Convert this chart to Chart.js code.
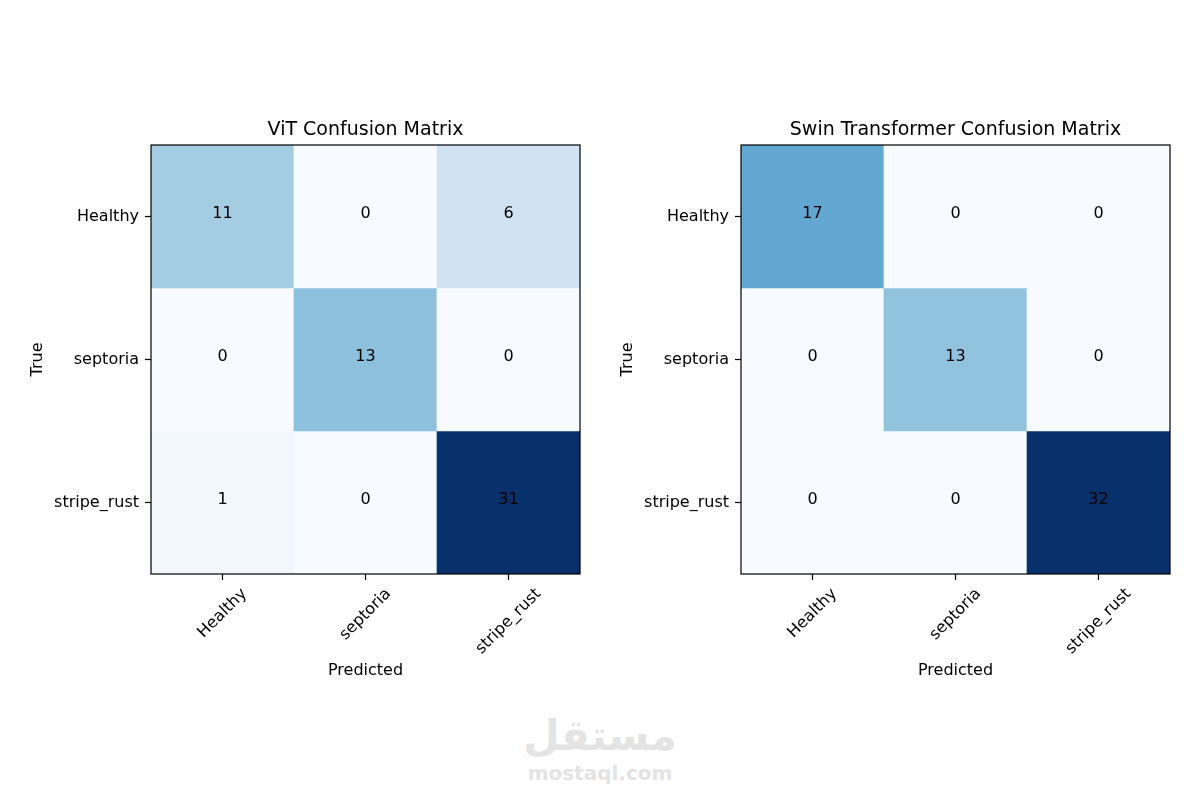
<!DOCTYPE html>
<html>
<head>
<meta charset="utf-8">
<script src="https://cdn.jsdelivr.net/npm/chart.js@4/dist/chart.umd.min.js"></script>
<style>
  body { margin: 0; background: #fff; }
  #wrap { position: relative; width: 1200px; height: 800px; overflow: hidden; }
  .pane { position: absolute; top: 0; width: 600px; height: 800px; z-index: 1; }
  #mark { position: absolute; left: 0; width: 1200px; top: 712px; text-align: center; color: #e4e4e4; font-family: "DejaVu Sans", sans-serif; font-weight: bold; z-index: 0; }
  #mark .ar { font-size: 42px; line-height: 48px; }
  #mark .en { font-size: 20px; line-height: 26px; }
</style>
</head>
<body>
<div id="wrap">
  <div id="mark"><div class="ar">مستقل</div><div class="en">mostaql.com</div></div>
  <div class="pane" style="left:0"><canvas id="vit" width="600" height="800"></canvas></div>
  <div class="pane" style="left:600px"><canvas id="swin" width="600" height="800"></canvas></div>
</div>
<script>
// classes (rows = true, columns = predicted)
var classes = ['Healthy', 'septoria', 'stripe_rust'];

// ViT confusion matrix rows
var vitHealthy = [11, 0, 6];
var vitSeptoria = [0, 13, 0];
var vitStripeRust = [1, 0, 31];

// Swin Transformer confusion matrix rows
var swinHealthy = [17, 0, 0];
var swinSeptoria = [0, 13, 0];
var swinStripeRust = [0, 0, 32];

var FONT = '"DejaVu Sans", sans-serif';

// matplotlib "Blues" colormap
var bluesStops = ['#f7fbff', '#deebf7', '#c6dbef', '#9ecae1', '#6baed6', '#4292c6', '#2171b5', '#08519c', '#08306b'];
function hexRgb(h) {
  return [parseInt(h.substr(1, 2), 16), parseInt(h.substr(3, 2), 16), parseInt(h.substr(5, 2), 16)];
}
function blues(t) {
  t = Math.max(0, Math.min(1, t));
  var p = t * (bluesStops.length - 1);
  var i = Math.min(Math.floor(p), bluesStops.length - 2);
  var f = p - i;
  var a = hexRgb(bluesStops[i]), b = hexRgb(bluesStops[i + 1]);
  var c = a.map(function (v, k) { return Math.round(v + (b[k] - v) * f); });
  return 'rgb(' + c.join(',') + ')';
}

// draws the counts, the box round the plot and the rotated x labels
var cellPlugin = {
  id: 'cellText',
  afterDatasetsDraw: function (chart) {
    var ctx = chart.ctx, xs = chart.scales.x, ys = chart.scales.y;
    ctx.save();
    ctx.font = '16px ' + FONT;
    ctx.fillStyle = '#000';
    ctx.textAlign = 'center';
    ctx.textBaseline = 'alphabetic';
    chart.data.datasets.forEach(function (ds, r) {
      ds.counts.forEach(function (v, j) {
        ctx.fillText(String(v), xs.getPixelForValue(j), ys.getPixelForValue(r + 0.5) + 1);
      });
    });
    ctx.restore();
  },
  afterDraw: function (chart) {
    var ctx = chart.ctx, a = chart.chartArea, xs = chart.scales.x;
    ctx.save();
    ctx.strokeStyle = '#000';
    ctx.lineWidth = 1.2;
    ctx.strokeRect(a.left, a.top, a.right - a.left, a.bottom - a.top);
    ctx.font = '16px ' + FONT;
    ctx.fillStyle = '#000';
    ctx.textAlign = 'center';
    ctx.textBaseline = 'middle';
    classes.forEach(function (c, j) {
      var w = ctx.measureText(c).width;
      var box = (w + 18) * Math.SQRT1_2;
      ctx.save();
      ctx.translate(xs.getPixelForValue(j), a.bottom + 11 + box / 2);
      ctx.rotate(-Math.PI / 4);
      ctx.fillText(c, 0, 0);
      ctx.restore();
    });
    ctx.restore();
  }
};

function makeChart(id, title, rows, padLeft, padRight) {
  var all = [].concat.apply([], rows);
  var lo = Math.min.apply(null, all), hi = Math.max.apply(null, all);
  var datasets = rows.map(function (row, r) {
    return {
      data: classes.map(function (c) { return { x: c, y: [r, r + 1] }; }),
      counts: row,
      backgroundColor: row.map(function (v) { return blues((v - lo) / (hi - lo)); }),
      borderWidth: 0,
      barPercentage: 1,
      categoryPercentage: 1,
      grouped: false
    };
  });
  return new Chart(document.getElementById(id).getContext('2d'), {
    type: 'bar',
    data: { labels: classes, datasets: datasets },
    options: {
      responsive: false,
      animation: false,
      devicePixelRatio: 1,
      layout: { padding: { left: padLeft, right: padRight, top: 117, bottom: 116 } },
      plugins: { legend: { display: false }, tooltip: { enabled: false }, title: { display: false } },
      scales: {
        x: {
          type: 'category',
          offset: true,
          grid: { display: true, offset: false, drawOnChartArea: false, drawTicks: true, tickLength: 6, color: '#000', tickWidth: 1.2 },
          border: { display: false },
          ticks: { display: false },
          title: { display: true, text: 'Predicted', color: '#000', font: { family: FONT, size: 16 }, padding: { top: 4, bottom: 4 } },
          afterFit: function (s) { s.height = 110; }
        },
        xTitle: {
          type: 'category',
          position: 'top',
          labels: classes,
          grid: { display: false },
          border: { display: false },
          ticks: { display: false },
          title: { display: true, text: title, color: '#000', font: { family: FONT, size: 19 }, padding: { top: 2, bottom: 0 } },
          afterFit: function (s) { s.height = 28; }
        },
        y: {
          type: 'linear',
          min: 0,
          max: classes.length,
          reverse: true,
          afterBuildTicks: function (s) {
            s.ticks = classes.map(function (c, i) { return { value: i + 0.5 }; });
          },
          ticks: {
            color: '#000',
            padding: 6,
            font: { family: FONT, size: 16 },
            callback: function (v) { return classes[Math.floor(v)]; }
          },
          grid: { display: true, drawOnChartArea: false, drawTicks: true, tickLength: 6, color: '#000', tickWidth: 1.2 },
          border: { display: false },
          title: { display: true, text: 'True', color: '#000', font: { family: FONT, size: 16 }, padding: { top: 4, bottom: 4 } },
          afterFit: function (s) { s.width = 127; }
        }
      }
    },
    plugins: [cellPlugin]
  });
}

makeChart('vit', 'ViT Confusion Matrix', [vitHealthy, vitSeptoria, vitStripeRust], 24, 20);
makeChart('swin', 'Swin Transformer Confusion Matrix', [swinHealthy, swinSeptoria, swinStripeRust], 14, 30);
</script>
</body>
</html>
